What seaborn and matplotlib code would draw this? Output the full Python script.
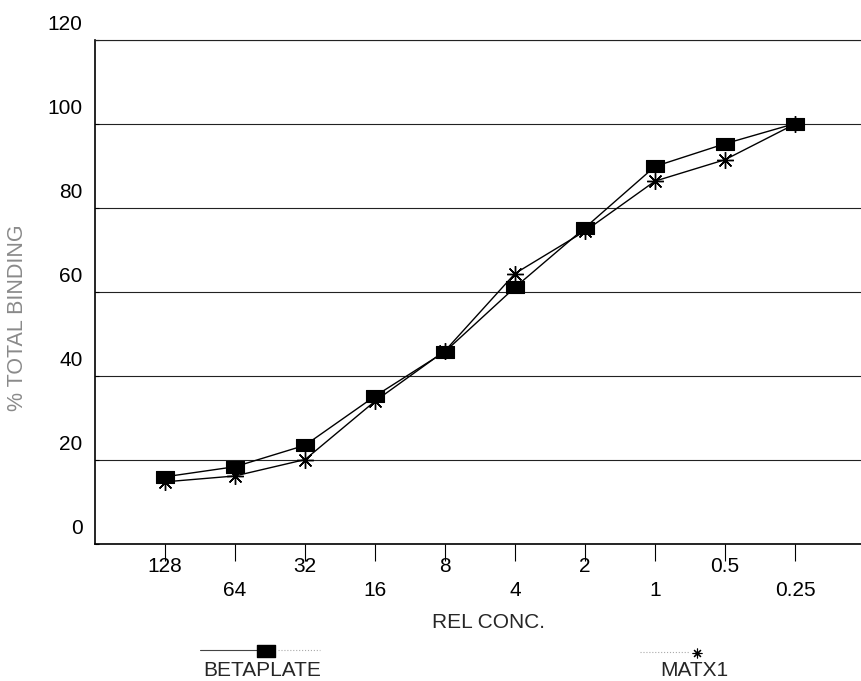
import numpy as np
import pandas as pd
import matplotlib
matplotlib.use('Agg')
import matplotlib.pyplot as plt
import seaborn as sns
from matplotlib.path import Path
from matplotlib.lines import Line2D
from matplotlib.transforms import ScaledTranslation

# ---- data ----
conc_labels = ['128', '64', '32', '16', '8', '4', '2', '1', '0.5', '0.25']
betaplate = [16.0, 18.4, 23.5, 35.2, 45.8, 61.1, 75.3, 89.9, 95.3, 100.1]
matx1 = [14.8, 16.2, 20.1, 34.0, 46.0, 64.4, 74.5, 86.4, 91.5, 100.0]
y_ticks = [0, 20, 40, 60, 80, 100, 120]
series_names = ['BETAPLATE', 'MATX1']

sns.set_theme(style='white')
plt.rcParams['font.family'] = ['Liberation Sans', 'DejaVu Sans']

W, H = 861, 681
fig = plt.figure(figsize=(W / 100, H / 100), dpi=100)
ax = fig.add_axes([95 / W, 1 - 544 / H, 1 - 95 / W, (544 - 40) / H])

pos = np.arange(len(conc_labels))
df = pd.DataFrame({'pos': pos, series_names[0]: betaplate, series_names[1]: matx1})

rect = Path([(-0.73, -0.5), (0.73, -0.5), (0.73, 0.5), (-0.73, 0.5), (-0.73, -0.5)],
            [Path.MOVETO, Path.LINETO, Path.LINETO, Path.LINETO, Path.CLOSEPOLY])

sns.lineplot(data=df, x='pos', y=series_names[1], ax=ax, color='black', lw=1.0,
             marker=(8, 2, 0), markersize=12, markeredgewidth=1.0,
             markeredgecolor='black', zorder=3)
sns.lineplot(data=df, x='pos', y=series_names[0], ax=ax, color='black', lw=1.0,
             marker=rect, markersize=13.5, markerfacecolor='black',
             markeredgecolor='black', markeredgewidth=0.8, zorder=4)

ax.set_ylim(0, 120)
ax.set_xlim(-1, (W - 165) / 70)
ax.set_xlabel('')
ax.set_ylabel('')

ax.set_yticks(y_ticks)
ax.set_yticklabels([str(v) for v in y_ticks])
ax.yaxis.grid(True, color='#222222', lw=0.8)
ax.xaxis.grid(False)

ax.set_xticks(pos[::2])
ax.set_xticklabels(conc_labels[::2])
ax.set_xticks(pos[1::2], minor=True)
ax.set_xticklabels(conc_labels[1::2], minor=True)

ax.tick_params(axis='x', which='both', bottom=True, direction='out', length=12,
               width=0.8, color='black', labelsize=15, labelcolor='black')
ax.tick_params(axis='x', which='major', pad=-3)
ax.tick_params(axis='x', which='minor', pad=15)
ax.tick_params(axis='y', left=True, direction='in', length=3, width=0.8,
               color='black', pad=9, labelsize=15, labelcolor='black')

off = ScaledTranslation(0, 17 / 100, fig.dpi_scale_trans)
for lbl in ax.get_yticklabels():
    lbl.set_transform(lbl.get_transform() + off)

for s in ['left', 'bottom']:
    ax.spines[s].set_color('black')
    ax.spines[s].set_linewidth(1.2)
ax.spines['top'].set_color('#222222')
ax.spines['top'].set_linewidth(0.8)
ax.spines['right'].set_visible(False)

fig.text(18 / W, 1 - 318 / H, '% TOTAL BINDING', rotation=90, color='#8a8a8a',
         fontsize=15.5, ha='center', va='center')
fig.text(488 / W, 1 - 623 / H, 'REL CONC.', ha='center', va='center', fontsize=15)

# legend
fig.add_artist(Line2D([200 / W, 258 / W], [1 - 650 / H] * 2, color='#444444', lw=0.8,
                      transform=fig.transFigure))
fig.add_artist(Line2D([278 / W, 320 / W], [1 - 650 / H] * 2, color='#aaaaaa', lw=0.8,
                      ls=':', transform=fig.transFigure))
fig.add_artist(Line2D([266 / W], [1 - 651 / H], marker=rect, markersize=13,
                      color='black', transform=fig.transFigure))
fig.text(262 / W, 1 - 671 / H, series_names[0], ha='center', va='center', fontsize=15)

fig.add_artist(Line2D([640 / W, 690 / W], [1 - 652 / H] * 2, color='#aaaaaa', lw=0.8,
                      ls=':', transform=fig.transFigure))
fig.add_artist(Line2D([697 / W], [1 - 653 / H], marker=(8, 2, 0), markersize=7,
                      markeredgewidth=0.8, color='black', transform=fig.transFigure))
fig.text(694 / W, 1 - 671 / H, series_names[1], ha='center', va='center', fontsize=15)

fig.savefig('out.png', dpi=100)
